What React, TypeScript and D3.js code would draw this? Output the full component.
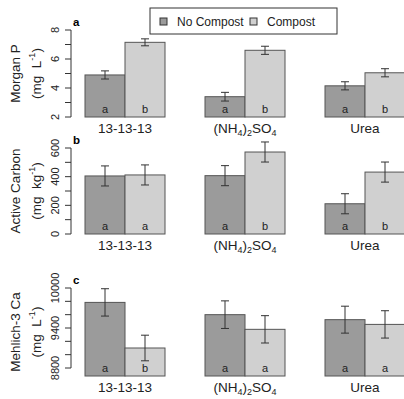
import React from 'react';
import * as d3 from 'd3';

// fertilizer treatments (x groups)
const categories = ['13-13-13', 'NH4', 'Urea'];
const seriesNames = ['No Compost', 'Compost'];
const seriesFill = ['#9b9b9b', '#d0d0d0'];

// a: Morgan P (mg L-1)
const morganNo = [4.9, 3.4, 4.15];
const morganNoErr = [0.28, 0.3, 0.28];
const morganComp = [7.15, 6.6, 5.05];
const morganCompErr = [0.24, 0.28, 0.28];
const morganLetters = [['a', 'b'], ['a', 'b'], ['a', 'b']];
const morganTicks = [2, 3, 4, 5, 6, 7, 8];
const morganLabels = [2, 4, 6, 8];

// b: Active carbon (mg kg-1)
const carbonNo = [405, 407, 211];
const carbonNoErr = [70, 70, 70];
const carbonComp = [412, 572, 432];
const carbonCompErr = [70, 70, 70];
const carbonLetters = [['a', 'a'], ['a', 'b'], ['a', 'b']];
const carbonTicks = [0, 100, 200, 300, 400, 500, 600];
const carbonLabels = [0, 200, 400, 600];

// c: Mehlich-3 Ca (mg L-1)
const caNo = [9784, 9600, 9525];
const caNoErr = [205, 207, 202];
const caComp = [9100, 9380, 9454];
const caCompErr = [192, 205, 205];
const caLetters = [['a', 'b'], ['a', 'a'], ['a', 'a']];
const caTicks = [8800, 9000, 9200, 9400, 9600, 9800, 10000];
const caLabels = [8800, 9400, 10000];

const FONT = '"Liberation Sans", Arial, sans-serif';
const TXT = '#222';
const AXIS_X = 71;

const x0 = d3.scaleBand<string>().domain(categories).range([65, 425]).paddingInner(1 / 3).paddingOuter(1 / 6);
const x1 = d3.scaleBand<number>().domain([0, 1]).range([0, x0.bandwidth()]);

type Panel = {
  tag: string;
  title: string;
  unit: string;
  values: number[][];
  errors: number[][];
  letters: string[][];
  ticks: number[];
  labels: number[];
  domain: [number, number];
  yTop: number;
  yBottom: number;
  base: number;
};

const panels: Panel[] = [
  { tag: 'a', title: 'Morgan P', unit: 'L', values: [morganNo, morganComp], errors: [morganNoErr, morganCompErr],
    letters: morganLetters, ticks: morganTicks, labels: morganLabels, domain: [2, 8], yTop: 30, yBottom: 117, base: 2 },
  { tag: 'b', title: 'Active Carbon', unit: 'kg', values: [carbonNo, carbonComp], errors: [carbonNoErr, carbonCompErr],
    letters: carbonLetters, ticks: carbonTicks, labels: carbonLabels, domain: [0, 600], yTop: 148, yBottom: 234, base: 0 },
  { tag: 'c', title: 'Mehlich-3 Ca', unit: 'L', values: [caNo, caComp], errors: [caNoErr, caCompErr],
    letters: caLetters, ticks: caTicks, labels: caLabels, domain: [8800, 10000], yTop: 288, yBottom: 368, base: 8680 },
];

function CategoryLabel({ cat, x, y }: { cat: string; x: number; y: number }) {
  if (cat === 'NH4') {
    return (
      <text x={x} y={y} textAnchor="middle" fontSize={13.5} fill={TXT} fontFamily={FONT}>
        (NH<tspan fontSize={9} dy={3}>4</tspan>
        <tspan dy={-3}>)</tspan>
        <tspan fontSize={9} dy={3}>2</tspan>
        <tspan dy={-3}>SO</tspan>
        <tspan fontSize={9} dy={3}>4</tspan>
      </text>
    );
  }
  return (
    <text x={x} y={y} textAnchor="middle" fontSize={13.5} fill={TXT} fontFamily={FONT}>{cat}</text>
  );
}

function PanelView({ p }: { p: Panel }) {
  const y = d3.scaleLinear().domain(p.domain).range([p.yBottom, p.yTop]);
  const baseY = y(p.base);
  const midY = (p.yTop + baseY) / 2;
  return (
    <g>
      {/* y axis */}
      <line x1={AXIS_X} x2={AXIS_X} y1={y(p.ticks[0])} y2={y(p.ticks[p.ticks.length - 1])} stroke="#333" />
      {p.ticks.map(t => (
        <line key={t} x1={AXIS_X - 6} x2={AXIS_X} y1={y(t)} y2={y(t)} stroke="#333" />
      ))}
      {p.labels.map(t => (
        <text key={t} transform={`translate(${AXIS_X - 12},${y(t)}) rotate(-90)`} textAnchor="middle"
          fontSize={11} fill={TXT} fontFamily={FONT}>{t}</text>
      ))}
      {/* y title */}
      <text transform={`translate(20,${midY}) rotate(-90)`} textAnchor="middle" fontSize={13.5} fill={TXT} fontFamily={FONT}>
        {p.title}
      </text>
      <text transform={`translate(41,${midY}) rotate(-90)`} textAnchor="middle" fontSize={13.5} fill={TXT} fontFamily={FONT}>
        (mg{'\u00a0\u00a0'}{p.unit}<tspan fontSize={9} dy={-6}>-1</tspan><tspan dy={6}>)</tspan>
      </text>
      <text x={73} y={p.yTop - 4} fontSize={11.5} fontWeight="bold" fill="#000" fontFamily={FONT}>{p.tag}</text>
      {categories.map((cat, i) => (
        <g key={cat} transform={`translate(${x0(cat)},0)`}>
          {p.values.map((vals, s) => {
            const bx = x1(s) as number;
            const top = y(vals[i]);
            const cx = bx + x1.bandwidth() / 2;
            const e = p.errors[s][i];
            return (
              <g key={s}>
                <rect x={bx} y={top} width={x1.bandwidth()} height={baseY - top} fill={seriesFill[s]} stroke="#555" />
                <line x1={cx} x2={cx} y1={y(vals[i] + e)} y2={y(vals[i] - e)} stroke="#333" />
                <line x1={cx - 4} x2={cx + 4} y1={y(vals[i] + e)} y2={y(vals[i] + e)} stroke="#333" />
                <line x1={cx - 4} x2={cx + 4} y1={y(vals[i] - e)} y2={y(vals[i] - e)} stroke="#333" />
                <text x={cx} y={baseY - 4} textAnchor="middle" fontSize={11} fill={TXT} fontFamily={FONT}>{p.letters[i][s]}</text>
              </g>
            );
          })}
          <CategoryLabel cat={cat} x={x0.bandwidth() / 2} y={baseY + 16} />
        </g>
      ))}
    </g>
  );
}

export default function App() {
  return (
    <svg width={404} height={399} style={{ position: 'fixed', left: 0, top: 0, background: '#fff' }}>
      <rect width={404} height={399} fill="#fff" />
      {panels.map(p => <PanelView key={p.tag} p={p} />)}
      {/* legend */}
      <rect x={150} y={8} width={187} height={26} fill="#fff" stroke="#333" />
      {seriesNames.map((name, s) => {
        const lx = s === 0 ? 160 : 250;
        return (
          <g key={name}>
            <rect x={lx} y={18} width={7} height={7} fill={seriesFill[s]} stroke="#333" />
            <text x={lx + 17} y={26} fontSize={12} fill={TXT} fontFamily={FONT}>{name}</text>
          </g>
        );
      })}
    </svg>
  );
}
